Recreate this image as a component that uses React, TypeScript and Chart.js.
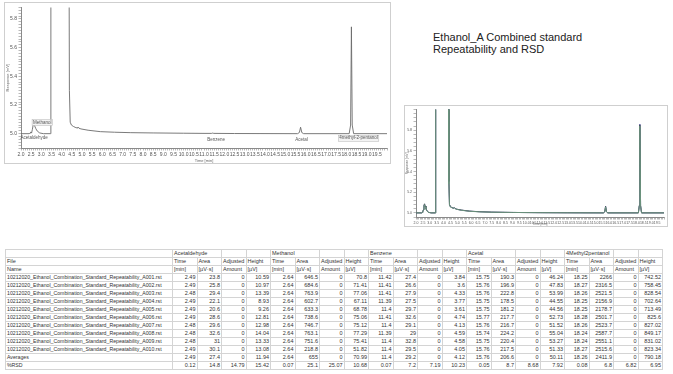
import React, { useEffect, useRef } from "react";
import { Chart, registerables } from "chart.js";
Chart.register(...registerables);

// ---------------- Chromatogram (single run) ----------------
const mainTime = [
  2.0, 2.4, 2.45, 2.48, 2.52, 2.56, 2.6, 2.63, 2.67, 2.73, 2.8, 2.92, 3.1, 3.44, 3.47, 4.35, 4.38, 4.42,
  4.48, 4.58, 4.7, 4.76, 4.8, 4.85, 4.95, 5.3, 5.9, 6.6, 7.4, 8.5, 10.0, 11.0, 11.38, 11.42, 11.48, 12.5,
  15.6, 15.69, 15.75, 15.81, 15.9, 18.14, 18.21, 18.25, 18.29, 18.36, 20.0,
];
const mainResp = [
  5.0, 5.0, 5.004, 5.012, 5.004, 5.03, 5.062, 5.068, 5.055, 5.035, 5.018, 5.005, 5.0, 5.0, 7.0, 7.0, 5.3, 5.08,
  5.06, 5.05, 5.042, 5.04, 5.046, 5.038, 5.033, 5.024, 5.014, 5.01, 5.007, 5.005, 5.003, 5.002, 5.002, 5.004, 5.002, 5.001,
  5.0, 5.008, 5.045, 5.008, 5.0, 5.0, 5.06, 5.745, 5.06, 5.0, 5.0,
];

// ---------------- Chromatogram overlay (several runs) ----------------
const overlayTime = [
  2.0, 2.4, 2.46, 2.49, 2.54, 2.58, 2.62, 2.66, 2.72, 2.8, 2.92, 3.1, 3.4, 3.43, 4.36, 4.39, 4.43, 4.5,
  4.62, 4.72, 4.78, 4.84, 4.95, 5.3, 5.9, 6.6, 7.5, 9.0, 11.0, 13.0, 15.6, 15.7, 15.76, 15.83, 15.92,
  18.14, 18.21, 18.25, 18.3, 18.37, 20.0,
];
const overlayRunA = [
  5.0, 5.0, 5.004, 5.01, 5.03, 5.07, 5.085, 5.065, 5.04, 5.018, 5.005, 5.0, 5.0, 7.0, 7.0, 5.3, 5.08, 5.058,
  5.05, 5.045, 5.05, 5.042, 5.035, 5.026, 5.016, 5.011, 5.007, 5.004, 5.002, 5.001, 5.0, 5.01, 5.065, 5.01, 5.0,
  5.0, 5.07, 5.86, 5.07, 5.0, 5.0,
];
const overlayRunB = [
  5.0, 5.0, 5.003, 5.009, 5.028, 5.066, 5.08, 5.06, 5.038, 5.016, 5.004, 5.0, 5.0, 7.0, 7.0, 5.28, 5.076, 5.056,
  5.049, 5.044, 5.048, 5.04, 5.034, 5.025, 5.015, 5.01, 5.006, 5.004, 5.002, 5.001, 5.0, 5.009, 5.058, 5.009, 5.0,
  5.0, 5.068, 5.84, 5.068, 5.0, 5.0,
];
const overlayRunC = [
  5.0, 5.0, 5.004, 5.011, 5.031, 5.072, 5.088, 5.066, 5.041, 5.019, 5.005, 5.0, 5.0, 7.0, 7.0, 5.31, 5.082, 5.06,
  5.051, 5.046, 5.051, 5.043, 5.036, 5.027, 5.017, 5.011, 5.007, 5.004, 5.002, 5.001, 5.0, 5.011, 5.062, 5.011, 5.0,
  5.0, 5.072, 5.85, 5.072, 5.0, 5.0,
];
const overlayColors = ["#6f9a80", "#3c4650", "#50509a"];

// ---------------- Peak labels on the main chromatogram ----------------
const peakNames = ["Acetaldehyde", "Methanol", "Benzene", "Acetal", "4methyl-2-pentanol"];
const peakLabelTime = [2.64, 3.05, 11.6, 15.8, 18.6];
const peakLabelLevel = [4.972, 5.078, 4.958, 4.958, 4.968];
const peakLabelBoxed = [false, true, false, false, true];

// ---------------- Title ----------------
const titleLines = ["Ethanol_A Combined standard", "Repeatability and RSD"];

// ---------------- Table ----------------
const runIds = ["A001", "A002", "A003", "A004", "A005", "A006", "A007", "A008", "A009", "A010"];
const summaryRows = ["Averages", "%RSD"];
const compounds = ["Acetaldehyde", "Methanol", "Benzene", "Acetal", "4Methyl2pentanol"];
const columnNames = ["Time", "Area", "Adjusted", "Height"];
const columnUnits = ["[min]", "[µV·s]", "Amount", "[µV]"];

const acetaldehydeTime = [2.49, 2.49, 2.48, 2.49, 2.49, 2.49, 2.48, 2.48, 2.48, 2.49, 2.49, 0.12];
const acetaldehydeArea = [23.8, 25.8, 29.4, 22.1, 20.6, 28.6, 29.6, 32.6, 31, 30.1, 27.4, 14.8];
const acetaldehydeAdj = [0, 0, 0, 0, 0, 0, 0, 0, 0, 0, 0, 14.79];
const acetaldehydeHeight = [10.59, 10.97, 13.39, 8.93, 9.26, 12.81, 12.98, 14.04, 13.33, 13.08, 11.94, 15.42];

const methanolTime = [2.64, 2.64, 2.64, 2.64, 2.64, 2.64, 2.64, 2.64, 2.64, 2.64, 2.64, 0.07];
const methanolArea = [646.5, 684.6, 763.9, 602.7, 633.3, 738.6, 746.7, 763.1, 751.6, 218.8, 655, 25.1];
const methanolAdj = [0, 0, 0, 0, 0, 0, 0, 0, 0, 0, 0, 25.07];
const methanolHeight = [70.8, 71.41, 77.06, 67.11, 68.78, 75.06, 75.12, 77.29, 75.41, 51.82, 70.99, 10.68];

const benzeneTime = [11.42, 11.41, 11.41, 11.39, 11.4, 11.41, 11.4, 11.39, 11.4, 11.4, 11.4, 0.07];
const benzeneArea = [27.4, 26.6, 27.9, 27.5, 29.7, 32.6, 29.1, 29, 32.8, 29.5, 29.2, 7.2];
const benzeneAdj = [0, 0, 0, 0, 0, 0, 0, 0, 0, 0, 0, 7.19];
const benzeneHeight = [3.84, 3.6, 4.33, 3.77, 3.61, 4.74, 4.13, 4.59, 4.58, 4.05, 4.12, 10.23];

const acetalTime = [15.75, 15.76, 15.76, 15.75, 15.75, 15.77, 15.76, 15.74, 15.75, 15.76, 15.76, 0.05];
const acetalArea = [190.3, 196.9, 222.8, 178.5, 181.2, 217.7, 216.7, 224.2, 220.4, 217.5, 206.6, 8.7];
const acetalAdj = [0, 0, 0, 0, 0, 0, 0, 0, 0, 0, 0, 8.68];
const acetalHeight = [46.24, 47.83, 53.99, 44.55, 44.56, 52.73, 51.52, 55.04, 53.27, 51.33, 50.11, 7.92];

const methylPentanolTime = [18.25, 18.27, 18.26, 18.25, 18.25, 18.28, 18.26, 18.24, 18.24, 18.27, 18.26, 0.08];
const methylPentanolArea = [2266, 2316.5, 2521.5, 2156.9, 2178.7, 2501.7, 2523.7, 2587.7, 2551.1, 2515.6, 2411.9, 6.8];
const methylPentanolAdj = [0, 0, 0, 0, 0, 0, 0, 0, 0, 0, 0, 6.82];
const methylPentanolHeight = [742.52, 758.45, 828.54, 702.64, 713.49, 825.6, 827.02, 849.17, 831.02, 823.34, 790.18, 6.95];

const compoundColumns = [
  [acetaldehydeTime, acetaldehydeArea, acetaldehydeAdj, acetaldehydeHeight],
  [methanolTime, methanolArea, methanolAdj, methanolHeight],
  [benzeneTime, benzeneArea, benzeneAdj, benzeneHeight],
  [acetalTime, acetalArea, acetalAdj, acetalHeight],
  [methylPentanolTime, methylPentanolArea, methylPentanolAdj, methylPentanolHeight],
];

// ---------------- helpers ----------------
const FONT = '"Liberation Sans", Arial, sans-serif';
const isMult = (v: number, step: number) => Math.abs(v / step - Math.round(v / step)) < 1e-6;

function makeAxes(o: {
  xMin: number; xMax: number; yMin: number; yMax: number; font: number; titleFont: number;
  xHeight: number; yWidth: number; yStep: number; labelMaxX: number;
}) {
  const axisColor = "#8a8a8a";
  return {
    x: {
      type: "linear",
      min: o.xMin,
      max: o.xMax,
      afterFit: (s: any) => { s.height = o.xHeight; },
      border: { color: axisColor, width: 1 },
      grid: { drawOnChartArea: false, tickLength: 2.5, color: axisColor, lineWidth: 0.6 },
      ticks: {
        stepSize: 0.1,
        autoSkip: false,
        maxRotation: 0,
        minRotation: 0,
        padding: 1,
        color: "#555",
        font: { size: o.font, family: FONT },
        callback: (v: any) => {
          const n = Number(v);
          return isMult(n, 0.5) && n <= o.labelMaxX ? n.toFixed(1) : "";
        },
      },
      title: { display: true, text: "Time [min]", color: "#666", padding: 0, font: { size: o.titleFont, family: FONT } },
    },
    y: {
      type: "linear",
      min: o.yMin,
      max: o.yMax,
      afterFit: (s: any) => { s.width = o.yWidth; },
      border: { color: axisColor, width: 1 },
      grid: { drawOnChartArea: false, tickLength: 2.5, color: axisColor, lineWidth: 0.6 },
      ticks: {
        stepSize: o.yStep,
        autoSkip: false,
        padding: 1.5,
        color: "#555",
        font: { size: o.font, family: FONT },
        callback: (v: any) => {
          const n = Number(v);
          return isMult(n, 0.2) && n >= 4.99 && n < o.yMax - 0.01 ? n.toFixed(1) : "";
        },
      },
      title: { display: true, text: "Response [mV]", color: "#666", padding: 0, font: { size: o.titleFont, family: FONT } },
    },
  };
}

const peakLabelPlugin = {
  id: "peakLabels",
  afterDatasetsDraw(chart: any) {
    const { ctx, scales } = chart;
    const x = scales.x;
    const y = scales.y;
    ctx.save();
    ctx.font = `4.5px ${FONT}`;
    ctx.textAlign = "center";
    ctx.textBaseline = "middle";
    peakNames.forEach((name, i) => {
      const px = x.getPixelForValue(peakLabelTime[i]);
      const py = y.getPixelForValue(peakLabelLevel[i]);
      const w = ctx.measureText(name).width;
      if (peakLabelBoxed[i]) {
        ctx.fillStyle = "#f3f3f3";
        ctx.fillRect(px - w / 2 - 1, py - 3, w + 2, 6);
        ctx.strokeStyle = "#b5b5b5";
        ctx.lineWidth = 0.5;
        ctx.strokeRect(px - w / 2 - 1, py - 3, w + 2, 6);
      }
      ctx.fillStyle = "#555";
      ctx.fillText(name, px, py);
    });
    ctx.restore();
  },
};

function ChartCanvas({ width, height, build }: { width: number; height: number; build: () => any }) {
  const ref = useRef<HTMLCanvasElement>(null);
  useEffect(() => {
    const chart = new Chart(ref.current as HTMLCanvasElement, build());
    return () => chart.destroy();
  }, []);
  return <canvas ref={ref} width={width} height={height} style={{ display: "block", width, height }} />;
}

function buildMain() {
  return {
    type: "line",
    data: {
      datasets: [
        {
          data: mainTime.map((t, i) => ({ x: t, y: mainResp[i] })),
          borderColor: "#6b6b6b",
          borderWidth: 0.9,
          pointRadius: 0,
          tension: 0,
          fill: false,
        },
      ],
    },
    options: {
      animation: false,
      responsive: false,
      devicePixelRatio: 1,
      events: [],
      layout: { padding: { top: 2, right: 3, left: 0, bottom: 0 } },
      plugins: { legend: { display: false }, tooltip: { enabled: false } },
      scales: makeAxes({
        xMin: 2, xMax: 20, yMin: 4.9, yMax: 5.88, font: 5, titleFont: 4,
        xHeight: 15, yWidth: 16, yStep: 0.02, labelMaxX: 19.6,
      }),
    },
    plugins: [peakLabelPlugin],
  };
}

function buildOverlay() {
  const runs = [overlayRunB, overlayRunC, overlayRunA];
  return {
    type: "line",
    data: {
      datasets: runs.map((r, k) => ({
        data: overlayTime.map((t, i) => ({ x: t, y: r[i] })),
        borderColor: overlayColors[k],
        borderWidth: 0.9,
        pointRadius: 0,
        tension: 0,
        fill: false,
      })),
    },
    options: {
      animation: false,
      responsive: false,
      devicePixelRatio: 1,
      events: [],
      layout: { padding: { top: 1, right: 3, left: 0, bottom: 0 } },
      plugins: { legend: { display: false }, tooltip: { enabled: false } },
      scales: makeAxes({
        xMin: 2, xMax: 20, yMin: 4.96, yMax: 6.0, font: 3.5, titleFont: 3.2,
        xHeight: 9, yWidth: 11, yStep: 0.04, labelMaxX: 19.6,
      }),
    },
  };
}

const cellBase: React.CSSProperties = {
  borderRight: "1px solid #d4d4d4",
  borderBottom: "1px solid #d4d4d4",
  boxSizing: "border-box",
  lineHeight: "7px",
  padding: "0 1px",
  whiteSpace: "nowrap",
  overflow: "hidden",
};

function DataTable() {
  const cells: React.ReactNode[] = [];
  let key = 0;
  // header row 1
  cells.push(<div key={key++} style={cellBase} />);
  compounds.forEach((c) => {
    cells.push(<div key={key++} style={{ ...cellBase, gridColumn: "span 2" }}>{c}</div>);
    cells.push(<div key={key++} style={cellBase} />);
    cells.push(<div key={key++} style={cellBase} />);
  });
  // header row 2
  cells.push(<div key={key++} style={cellBase}>File</div>);
  compounds.forEach(() => columnNames.forEach((n) => cells.push(<div key={key++} style={cellBase}>{n}</div>)));
  // header row 3
  cells.push(<div key={key++} style={cellBase}>Name</div>);
  compounds.forEach(() => columnUnits.forEach((u) => cells.push(<div key={key++} style={cellBase}>{u}</div>)));
  // data rows
  const rowNames = [
    ...runIds.map((id) => `10212020_Ethanol_Combination_Standard_Repeatability_${id}.rst`),
    ...summaryRows,
  ];
  rowNames.forEach((rn, r) => {
    cells.push(<div key={key++} style={{ ...cellBase, fontSize: "5.2px" }}>{rn}</div>);
    compoundColumns.forEach((cols) =>
      cols.forEach((col) =>
        cells.push(
          <div key={key++} style={{ ...cellBase, textAlign: "right" }}>
            {String(col[r])}
          </div>
        )
      )
    );
  });
  return (
    <div
      style={{
        position: "absolute",
        left: 5,
        top: 249,
        display: "grid",
        gridTemplateColumns: "167px repeat(20, 24.5px)",
        gridAutoRows: "8px",
        borderTop: "1px solid #d4d4d4",
        borderLeft: "1px solid #d4d4d4",
        font: `5.5px ${FONT}`,
        color: "#333",
      }}
    >
      {cells}
    </div>
  );
}

export default function App() {
  return (
    <div
      style={{
        position: "absolute",
        left: 0,
        top: 0,
        width: 673,
        height: 374,
        background: "#fff",
        overflow: "hidden",
      }}
    >
      <div style={{ position: "absolute", left: 4, top: 2, width: 385, height: 160, border: "1px solid #cfcfcf" }}>
        <ChartCanvas width={385} height={160} build={buildMain} />
      </div>
      <div
        style={{
          position: "absolute",
          left: 433,
          top: 31,
          font: `11px ${FONT}`,
          lineHeight: "12px",
          color: "#222",
          whiteSpace: "nowrap",
        }}
      >
        {titleLines.map((l) => (
          <div key={l}>{l}</div>
        ))}
      </div>
      <div style={{ position: "absolute", left: 404, top: 105, width: 262, height: 120, border: "1px solid #cfcfcf" }}>
        <ChartCanvas width={262} height={120} build={buildOverlay} />
      </div>
      <DataTable />
    </div>
  );
}
